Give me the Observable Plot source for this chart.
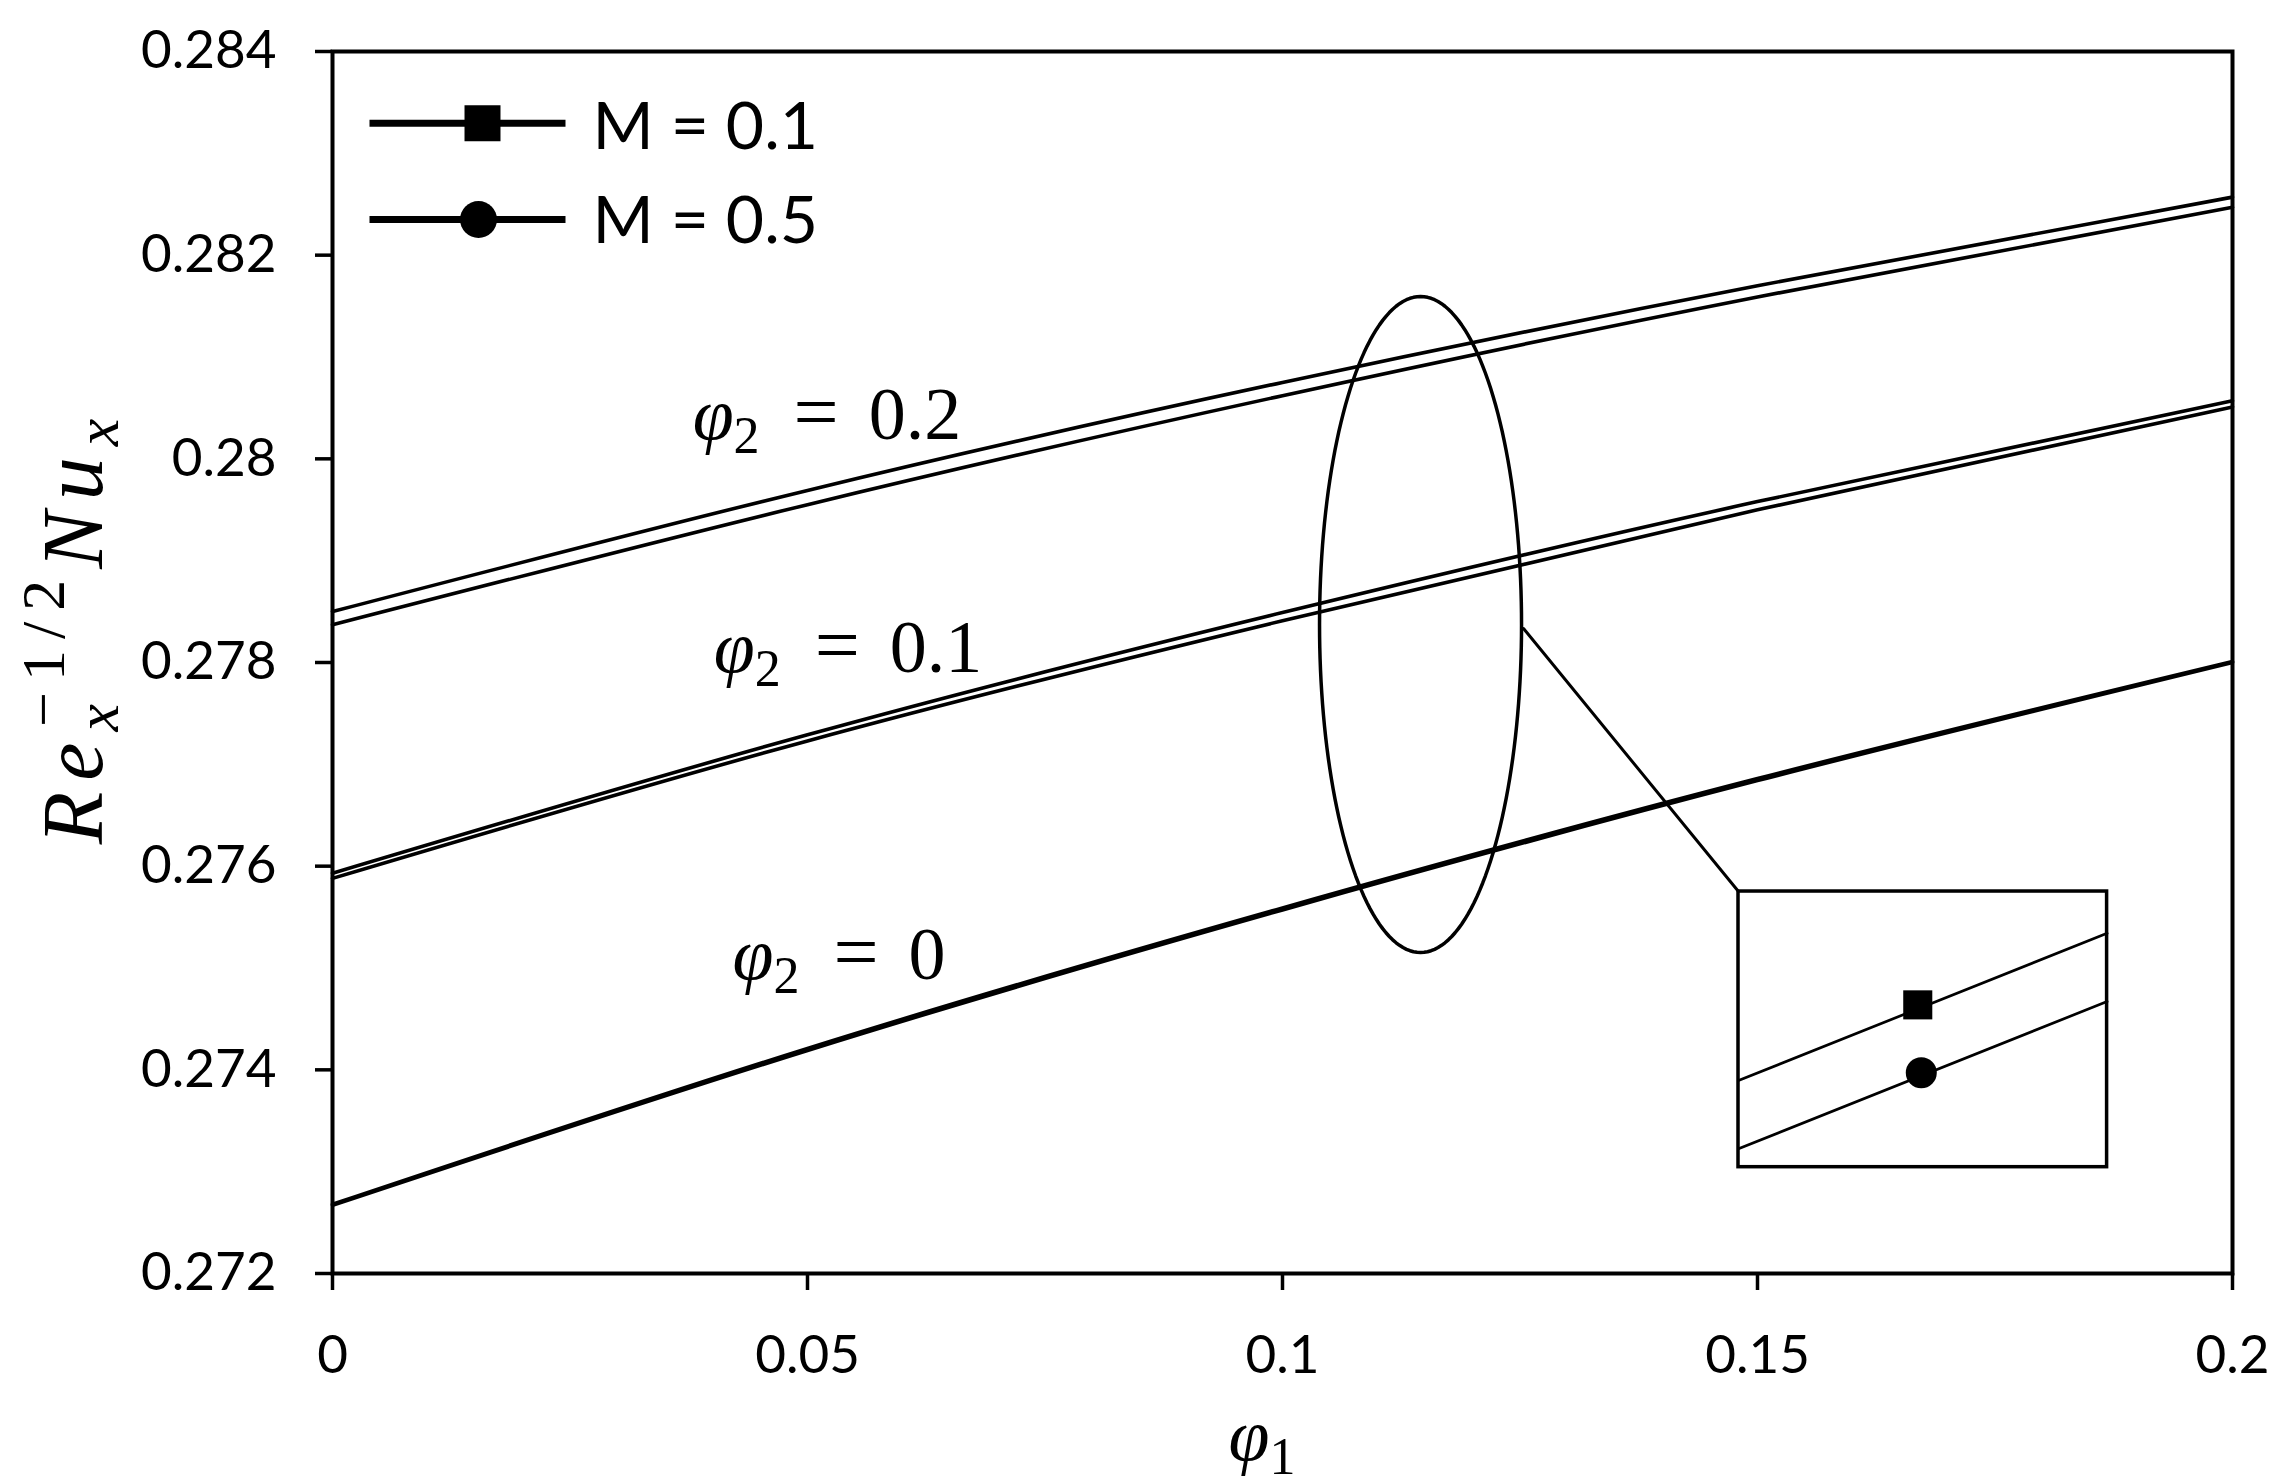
<!DOCTYPE html>
<html><head><meta charset="utf-8">
<script src="https://cdn.jsdelivr.net/npm/d3@7"></script>
<script src="https://cdn.jsdelivr.net/npm/@observablehq/plot@0.6"></script>
<style>html,body{margin:0;padding:0;background:#fff;} svg{display:block;}</style>
</head><body><div id="chart"></div>
<script>
// ---- data ----
const phi1 = [0, 0.05, 0.1, 0.15, 0.2];
const nu_phi2_0_M01  = [0.27268, 0.27421, 0.27559, 0.27686, 0.27801];
const nu_phi2_0_M05  = [0.27267, 0.27419, 0.27557, 0.27684, 0.27800];
const nu_phi2_01_M01 = [0.27593, 0.27729, 0.27849, 0.27958, 0.28057];
const nu_phi2_01_M05 = [0.27588, 0.27723, 0.27841, 0.27950, 0.28051];
const nu_phi2_02_M01 = [0.27850, 0.27969, 0.28075, 0.28170, 0.28257];
const nu_phi2_02_M05 = [0.27837, 0.27955, 0.28062, 0.28159, 0.28247];
const phi2Levels = ["0", "0.1", "0.2"];
const mLevels = ["0.1", "0.5"];
const legendLabels = ["M = 0.1", "M = 0.5"];
const xTicks = [0, 0.05, 0.1, 0.15, 0.2];
const xTickLabels = ["0", "0.05", "0.1", "0.15", "0.2"];
const yTicks = [0.272, 0.274, 0.276, 0.278, 0.28, 0.282, 0.284];
const yTickLabels = ["0.272", "0.274", "0.276", "0.278", "0.28", "0.282", "0.284"];

// ---- annotation placement (data units) ----
const curveLabelX = [0.05337, 0.05432, 0.0521];
const curveLabelY = [0.274887, 0.277902, 0.28019];
const ellipseC = [0.11453, 0.278373], ellipseR = [0.010632, 0.003221];
const connector = [[0.12537, 0.278334], [0.148, 0.275751]];
const insetBox = {x1: 0.148, x2: 0.1868, y1: 0.273044, y2: 0.275751};
const insetLine1 = [[0.148, 0.273895], [0.1868, 0.275341]];
const insetLine2 = [[0.148, 0.273224], [0.1868, 0.274671]];
const insetSquare = [0.16687, 0.274638], insetCircle = [0.16724, 0.273971];
const legendX = [0.003895, 0.024526], legendMarkX = [0.01579, 0.01537], legendTextX = 0.02737;
const legendLineY = [0.283296, 0.28235], legendTextY = [0.283047, 0.282124];

const seriesValues = [
  [nu_phi2_0_M01, nu_phi2_0_M05],
  [nu_phi2_01_M01, nu_phi2_01_M05],
  [nu_phi2_02_M01, nu_phi2_02_M05]
];
const rows = [];
phi2Levels.forEach((p, i) => mLevels.forEach((m, j) =>
  phi1.forEach((x, k) => rows.push({phi1: x, nu: seriesValues[i][j][k], key: p + "|" + m}))));

const ellipsePts = d3.range(0, 361, 2).map(a => {
  const t = a * Math.PI / 180;
  return [ellipseC[0] + ellipseR[0] * Math.cos(t), ellipseC[1] + ellipseR[1] * Math.sin(t)];
});

const legendRows = legendLabels.map((label, i) => ({label, i}));

const plot = Plot.plot({
  width: 2292, height: 1484,
  marginLeft: 332, marginRight: 60, marginTop: 51, marginBottom: 211,
  style: {background: "white", color: "black", fontFamily: "Lato, sans-serif"},
  x: {domain: [0, 0.2]},
  y: {domain: [0.272, 0.284]},
  marks: [
    Plot.axisX({ticks: xTicks, tickSize: 17, tickPadding: 45, fontSize: 53, strokeWidth: 3.5,
      tickFormat: d => xTickLabels[xTicks.indexOf(d)], label: null}),
    Plot.axisY({ticks: yTicks, tickSize: 17, tickPadding: 39, fontSize: 53, strokeWidth: 3.5,
      tickFormat: d => yTickLabels[yTicks.indexOf(d)], label: null}),
    Plot.line(rows, {x: "phi1", y: "nu", z: "key", curve: "natural", stroke: "black", strokeWidth: 3.6}),
    Plot.line(ellipsePts, {stroke: "black", strokeWidth: 3.5}),
    Plot.line(connector, {stroke: "black", strokeWidth: 3}),
    Plot.rect([insetBox], {x1: "x1", x2: "x2", y1: "y1", y2: "y2", fill: "white", stroke: "black", strokeWidth: 3.5}),
    Plot.line(insetLine1, {stroke: "black", strokeWidth: 2.7}),
    Plot.line(insetLine2, {stroke: "black", strokeWidth: 2.7}),
    Plot.dot([insetSquare], {symbol: "square", r: 16.4, fill: "black", stroke: null}),
    Plot.dot([insetCircle], {symbol: "circle", r: 15.5, fill: "black", stroke: null}),
    // legend
    Plot.link(legendRows, {x1: () => legendX[0], x2: () => legendX[1], y1: d => legendLineY[d.i], y2: d => legendLineY[d.i], stroke: "black", strokeWidth: 7}),
    Plot.dot([legendRows[0]], {x: () => legendMarkX[0], y: () => legendLineY[0], symbol: "square", r: 20.3, fill: "black", stroke: null}),
    Plot.dot([legendRows[1]], {x: () => legendMarkX[1], y: () => legendLineY[1], symbol: "circle", r: 18.5, fill: "black", stroke: null}),
    Plot.text(legendRows, {x: () => legendTextX, y: d => legendTextY[d.i], text: "label", textAnchor: "start", lineAnchor: "bottom", fontSize: 66, fill: "black"}),
    Plot.frame({stroke: "black", strokeWidth: 4})
  ]
});

const svg = d3.select(plot);
const xs = plot.scale("x"), ys = plot.scale("y");
const SERIF = "'Liberation Serif', 'DejaVu Serif', serif";

// curve labels  φ2 = ...
phi2Levels.forEach((lab, i) => {
  const t = svg.append("text")
    .attr("x", xs.apply(curveLabelX[i])).attr("y", ys.apply(curveLabelY[i]))
    .attr("text-anchor", "middle").attr("font-family", SERIF).attr("font-size", 74).attr("fill", "black");
  t.append("tspan").attr("font-style", "italic").text("φ");
  t.append("tspan").attr("font-size", 52).attr("dy", 14).text("2");
  t.append("tspan").attr("dy", -14).attr("dx", 34).attr("font-size", 80).text("=");
  t.append("tspan").attr("dx", 30).text(lab);
});

// x axis title φ1
{
  const t = svg.append("text").attr("x", 1262).attr("y", 1460)
    .attr("text-anchor", "middle").attr("font-family", SERIF).attr("font-size", 74).attr("fill", "black");
  t.append("tspan").attr("font-style", "italic").text("φ");
  t.append("tspan").attr("font-size", 52).attr("dy", 14).text("1");
}
// y axis title Re_x^{-1/2} Nu_x
{
  const t = svg.append("text").attr("transform", "translate(102,626) rotate(-90)")
    .attr("text-anchor", "middle").attr("font-family", SERIF).attr("font-size", 86).attr("fill", "black")
    .attr("letter-spacing", 11);
  t.append("tspan").attr("font-style", "italic").text("Re");
  t.append("tspan").attr("font-style", "italic").attr("font-size", 62).attr("dy", 16).text("x");
  t.append("tspan").attr("font-size", 62).attr("dx", -34).attr("dy", -54).text("−1/2");
  t.append("tspan").attr("font-style", "italic").attr("dy", 38).text("Nu");
  t.append("tspan").attr("font-style", "italic").attr("font-size", 62).attr("dy", 16).text("x");
}

document.getElementById("chart").appendChild(plot);
</script>
</body></html>
